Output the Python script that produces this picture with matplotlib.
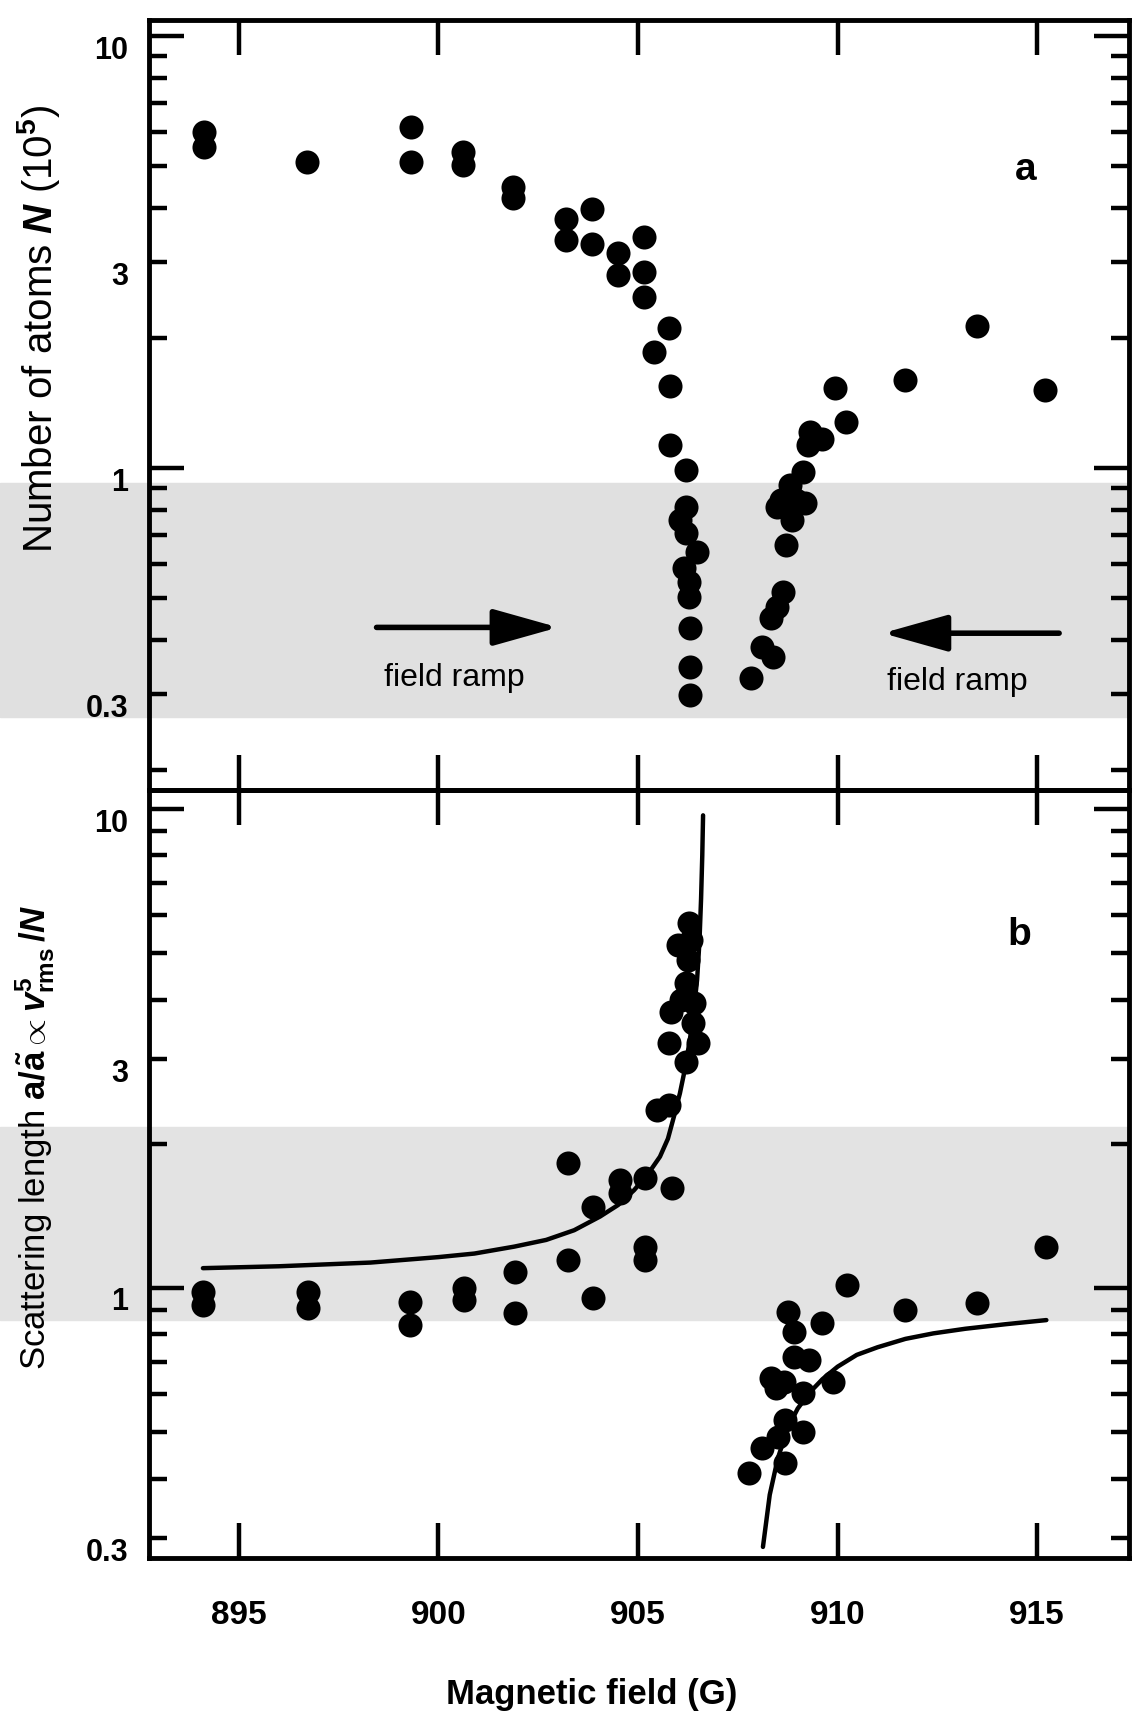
import numpy as np
import matplotlib
matplotlib.use('Agg')
import matplotlib.pyplot as plt
import matplotlib.transforms as mtransforms
from matplotlib.ticker import FixedLocator, FuncFormatter
from matplotlib.patches import Rectangle

plt.rcParams['font.family'] = ['Liberation Sans', 'DejaVu Sans']
plt.rcParams['font.weight'] = 'bold'
plt.rcParams['mathtext.fontset'] = 'custom'
plt.rcParams['mathtext.rm'] = 'Liberation Sans'
plt.rcParams['mathtext.it'] = 'Liberation Sans:italic'
plt.rcParams['mathtext.bf'] = 'Liberation Sans:bold'

# panel a: number of atoms (1e5) vs field (G)
n_field = [894.12, 894.12, 896.72, 899.32, 899.32, 900.62, 900.62, 901.88, 901.88,
           903.19, 903.19, 903.85, 903.85, 904.5, 904.5, 905.14, 905.14, 905.14,
           905.78, 905.39, 905.81, 905.81, 906.19, 906.19, 906.05, 906.19, 906.47,
           906.15, 906.28, 906.28, 906.31, 906.31, 906.31,
           913.48, 911.69, 915.2, 909.94, 910.2, 909.3, 909.6, 909.25, 909.14,
           908.8, 908.58, 908.95, 908.48, 909.19, 908.86, 908.7, 908.63, 908.48,
           908.34, 908.1, 908.39, 907.82]
n_atoms = [6.00, 5.54, 5.10, 6.17, 5.10, 5.39, 5.03, 4.47, 4.22,
           3.78, 3.37, 3.97, 3.30, 3.14, 2.80, 3.42, 2.85, 2.49,
           2.11, 1.86, 1.55, 1.13, 0.99, 0.814, 0.758, 0.706, 0.640,
           0.586, 0.545, 0.504, 0.426, 0.347, 0.298,
           2.13, 1.60, 1.52, 1.53, 1.28, 1.21, 1.17, 1.13, 0.98,
           0.913, 0.843, 0.843, 0.814, 0.829, 0.758, 0.663, 0.517, 0.477,
           0.449, 0.386, 0.366, 0.326]

# panel b: scattering length a/a~ vs field (G)
a_field = [894.10, 894.10, 896.74, 896.74, 899.30, 899.30, 900.64, 900.64, 901.93, 901.93,
           903.25, 903.25, 903.87, 903.87, 904.55, 904.55, 905.17, 905.85, 905.17, 905.17,
           905.47, 905.78,
           906.27, 906.0, 906.24, 906.2, 905.83, 906.4, 906.38, 905.78, 906.51, 906.21,
           906.07, 906.32,
           910.24, 911.68, 913.48, 915.23, 908.77, 908.9, 909.61, 908.92, 909.29, 908.33,
           908.66, 908.46, 909.13, 909.88, 908.68, 909.14, 908.51, 908.1, 908.68, 907.79]
a_ratio = [0.982, 0.922, 0.982, 0.907, 0.936, 0.837, 1.0, 0.944, 1.081, 0.885,
           1.82, 1.144, 1.478, 0.952, 1.68, 1.577, 1.694, 1.614, 1.22, 1.144,
           2.35, 2.41,
           5.78, 5.20, 4.84, 4.33, 3.77, 3.93, 3.57, 3.25, 3.25, 2.96,
           3.99, 5.32,
           1.014, 0.90, 0.929, 1.22, 0.892, 0.811, 0.844, 0.719, 0.708, 0.648,
           0.637, 0.618, 0.603, 0.637, 0.530, 0.501, 0.489, 0.463, 0.431, 0.410]

# fitted curve (below / above resonance)
fit_lo_field = [894.1, 896.0, 898.3, 900.0, 900.9, 901.9, 902.7, 903.4, 904.05, 904.5,
                904.9, 905.25, 905.55, 905.75, 905.9, 906.05, 906.17, 906.3, 906.4,
                906.48, 906.54, 906.58, 906.61, 906.63]
fit_lo_ratio = [1.10, 1.11, 1.13, 1.16, 1.18, 1.22, 1.26, 1.32, 1.41, 1.49,
                1.60, 1.73, 1.88, 2.05, 2.28, 2.55, 2.85, 3.3, 3.8,
                4.4, 5.3, 6.5, 8.0, 9.7]
fit_hi_field = [908.13, 908.3, 908.5, 908.75, 909.0, 909.3, 909.62, 910.0, 910.48,
                911.0, 911.7, 912.4, 913.2, 914.2, 915.23]
fit_hi_ratio = [0.288, 0.37, 0.44, 0.51, 0.56, 0.605, 0.645, 0.685, 0.725,
                0.752, 0.783, 0.804, 0.822, 0.84, 0.857]

field_ticks = [895, 900, 905, 910, 915]
minor_y = [0.2, 0.3, 0.4, 0.5, 0.6, 0.7, 0.8, 0.9, 2, 3, 4, 5, 6, 7, 8, 9]
labelled_minor = [0.3, 3]

fig = plt.figure(figsize=(11.42, 17.18), dpi=100)

# grey bands from the scan
fig.patches.append(Rectangle((0, 0.5827), 0.9886, 0.1362, transform=fig.transFigure,
                             color='#e0e0e0', zorder=-1))
fig.patches.append(Rectangle((0, 0.2317), 0.9886, 0.1123, transform=fig.transFigure,
                             color='#e3e3e3', zorder=-1))

ax1 = fig.add_axes([0.1305, 0.5402, 0.8581, 0.4482])
ax2 = fig.add_axes([0.1305, 0.0931, 0.8581, 0.4471])

ax1.scatter(n_field, n_atoms, s=300, c='k', linewidths=0, zorder=3)
ax2.scatter(a_field, a_ratio, s=300, c='k', linewidths=0, zorder=3)
ax2.plot(fit_lo_field, fit_lo_ratio, 'k-', lw=3.2, solid_capstyle='round')
ax2.plot(fit_hi_field, fit_hi_ratio, 'k-', lw=3.2, solid_capstyle='round')

ax1.set_ylim(0.18, 10.9)
ax2.set_ylim(0.273, 10.96)

for ax in (ax1, ax2):
    ax.patch.set_alpha(0)
    ax.set_xlim(892.75, 917.3)
    ax.set_yscale('log')
    ax.yaxis.set_major_locator(FixedLocator([1, 10]))
    ax.yaxis.set_minor_locator(FixedLocator(minor_y))
    ax.yaxis.set_major_formatter(FuncFormatter(lambda v, p: '%g' % v))
    ax.yaxis.set_minor_formatter(FuncFormatter(
        lambda v, p: ('%g' % v) if any(abs(v - m) < 1e-6 for m in labelled_minor) else ''))
    ax.set_xticks(field_ticks)
    ax.tick_params(axis='x', direction='in', top=True, bottom=True,
                   length=25, width=3.2, labelsize=24, pad=30)
    ax.tick_params(axis='y', which='major', direction='in', left=True, right=True,
                   length=25, width=3.2, labelsize=22, pad=15)
    ax.tick_params(axis='y', which='minor', direction='in', left=True, right=True,
                   length=13, width=3.2, labelsize=22, pad=15)
    for s in ax.spines.values():
        s.set_linewidth(3.5)

ax1.tick_params(axis='x', labelbottom=False)

# arrows and annotations
ax1.annotate('', xy=(903.0, 0.428), xytext=(898.45, 0.428),
             arrowprops=dict(arrowstyle='-|>,head_length=1.6,head_width=0.45', lw=4,
                             color='k', shrinkA=0, shrinkB=0, mutation_scale=25))
ax1.annotate('', xy=(911.13, 0.415), xytext=(915.55, 0.415),
             arrowprops=dict(arrowstyle='-|>,head_length=1.6,head_width=0.45', lw=4,
                             color='k', shrinkA=0, shrinkB=0, mutation_scale=25))
ax1.text(900.4, 0.327, 'field ramp', ha='center', va='center', fontsize=23,
         fontweight='normal')
ax1.text(913.0, 0.320, 'field ramp', ha='center', va='center', fontsize=23,
         fontweight='normal')
ax1.text(914.7, 4.9, 'a', ha='center', va='center', fontsize=28, fontweight='bold')
ax2.text(914.55, 5.46, 'b', ha='center', va='center', fontsize=28, fontweight='bold')

fig.text(0.034, 0.8085, r'Number of atoms $N$ (10$^5$)', rotation=90,
         ha='center', va='center', fontsize=29, fontweight='normal')
fig.text(0.0306, 0.3382,
         r'Scattering length $\mathbf{a/\tilde{a}}\propto v^{5}_{\mathrm{rms}}\,/N$',
         rotation=90, ha='center', va='center', fontsize=25, fontweight='normal')
fig.text(0.518, 0.0134, 'Magnetic field (G)', ha='center', va='center', fontsize=25,
         fontweight='bold')

# tick labels sit a little below their ticks in the original
fig.canvas.draw()
shift = mtransforms.ScaledTranslation(0, -11 / 100, fig.dpi_scale_trans)
for ax in (ax1, ax2):
    for t in ax.yaxis.get_major_ticks() + ax.yaxis.get_minor_ticks():
        t.label1.set_transform(t.label1.get_transform() + shift)

fig.savefig('out.png', dpi=100)
